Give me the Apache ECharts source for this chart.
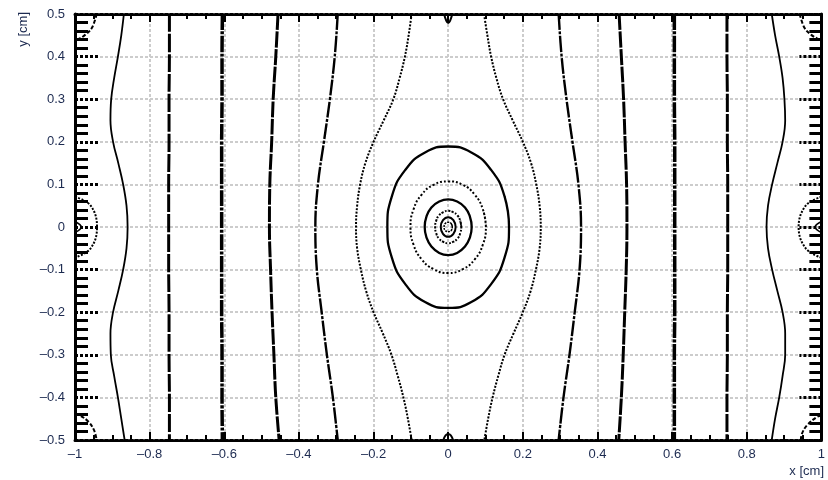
<!DOCTYPE html>
<html>
<head>
<meta charset="utf-8">
<title>contours</title>
<script src="https://cdn.jsdelivr.net/npm/echarts@6/dist/echarts.min.js"></script>
<style>
  html, body { margin: 0; padding: 0; background: #fff; }
  #chart { width: 828px; height: 480px; }
</style>
</head>
<body>
<div id="chart"></div>
<script>
  // y positions where the open curves were read
  const yCoarse = [0.5, 0.4, 0.3, 0.2, 0.1, 0, -0.1, -0.2, -0.3, -0.4, -0.5]
  const yFine = [0.5, 0.45, 0.4, 0.35, 0.3, 0.25, 0.2, 0.15, 0.1, 0.05, 0,
    -0.05, -0.1, -0.15, -0.2, -0.25, -0.3, -0.35, -0.4, -0.45, -0.5]

  // open curves, x value at each y (left half / right half)
  const curveA_left = [-0.869, -0.876, -0.885, -0.895, -0.903, -0.905, -0.898, -0.884, -0.871, -0.862, -0.859,
    -0.862, -0.871, -0.884, -0.898, -0.905, -0.904, -0.895, -0.885, -0.876, -0.867]
  const curveA_right = [0.867, 0.876, 0.887, 0.896, 0.901, 0.903, 0.896, 0.882, 0.868, 0.857, 0.853,
    0.857, 0.868, 0.882, 0.896, 0.903, 0.903, 0.896, 0.887, 0.876, 0.867]
  const curveB_left = [-0.747, -0.747, -0.748, -0.748, -0.749, -0.749, -0.749, -0.748, -0.748, -0.747, -0.747]
  const curveB_right = [0.747, 0.747, 0.748, 0.748, 0.749, 0.749, 0.749, 0.748, 0.748, 0.747, 0.747]
  const curveC_left = [-0.605, -0.606, -0.606, -0.607, -0.607, -0.607, -0.607, -0.607, -0.606, -0.606, -0.605]
  const curveC_right = [0.606, 0.606, 0.606, 0.607, 0.607, 0.607, 0.607, 0.607, 0.606, 0.606, 0.606]
  const curveD_left = [-0.456, -0.462, -0.469, -0.473, -0.478, -0.479, -0.476, -0.472, -0.467, -0.462, -0.453]
  const curveD_right = [0.458, 0.464, 0.47, 0.474, 0.478, 0.479, 0.477, 0.473, 0.469, 0.464, 0.457]
  const curveE_left = [-0.296, -0.304, -0.317, -0.333, -0.349, -0.356, -0.352, -0.339, -0.325, -0.309, -0.296]
  const curveE_right = [0.296, 0.304, 0.317, 0.333, 0.349, 0.356, 0.352, 0.339, 0.325, 0.309, 0.296]
  const curveF_left = [-0.098, -0.106, -0.116, -0.13, -0.147, -0.173, -0.2, -0.222, -0.236, -0.244, -0.247,
    -0.244, -0.234, -0.22, -0.2, -0.175, -0.152, -0.135, -0.12, -0.108, -0.098]
  const curveF_right = [0.096, 0.105, 0.115, 0.129, 0.147, 0.173, 0.2, 0.222, 0.236, 0.245, 0.248,
    0.245, 0.235, 0.221, 0.2, 0.175, 0.151, 0.134, 0.119, 0.107, 0.097]

  // closed rings round the centre ([x, y])
  const ring1 = [[0.163, 0], [0.151, 0.072], [0.115, 0.134], [0.062, 0.175], [0, 0.189], [-0.062, 0.175], [-0.115, 0.134], [-0.151, 0.072],
    [-0.163, 0], [-0.151, -0.072], [-0.115, -0.134], [-0.062, -0.176], [0, -0.19], [0.062, -0.176], [0.115, -0.134], [0.151, -0.072]]
  const ring2 = [[0.101, 0], [0.093, 0.041], [0.071, 0.076], [0.039, 0.099], [0, 0.107], [-0.039, 0.099], [-0.071, 0.076], [-0.093, 0.041],
    [-0.101, 0], [-0.093, -0.041], [-0.071, -0.076], [-0.039, -0.099], [0, -0.108], [0.039, -0.099], [0.071, -0.076], [0.093, -0.041]]
  const ring3 = [[0.063, 0], [0.058, 0.025], [0.045, 0.046], [0.024, 0.06], [0, 0.065], [-0.024, 0.06], [-0.045, 0.046], [-0.058, 0.025],
    [-0.063, 0], [-0.058, -0.025], [-0.045, -0.046], [-0.024, -0.061], [0, -0.066], [0.024, -0.061], [0.045, -0.046], [0.058, -0.025]]
  const ring4 = [[0.035, 0], [0.032, 0.015], [0.025, 0.027], [0.013, 0.035], [0, 0.038], [-0.013, 0.035], [-0.025, 0.027], [-0.032, 0.015],
    [-0.035, 0], [-0.032, -0.015], [-0.025, -0.027], [-0.013, -0.035], [0, -0.038], [0.013, -0.035], [0.025, -0.027], [0.032, -0.015]]
  const ring5 = [[0.02, 0], [0.014, 0.016], [0, 0.023], [-0.014, 0.016], [-0.02, 0], [-0.014, -0.016], [0, -0.023], [0.014, -0.016]]
  const ring6 = [[0.011, 0], [0.008, 0.008], [0, 0.011], [-0.008, 0.008], [-0.011, 0], [-0.008, -0.008], [0, -0.011], [0.008, -0.008]]

  // small arcs at the edges and corners ([x, y])
  const arcLeft = [[-1, 0.071], [-0.958, 0.05], [-0.941, 0], [-0.958, -0.05], [-1, -0.072]]
  const arcRight = [[1, 0.071], [0.958, 0.05], [0.939, 0], [0.958, -0.05], [1, -0.072]]
  const dotLeft = [[-1, 0.013], [-0.983, 0], [-1, -0.013]]
  const dotRight = [[1, 0.013], [0.983, 0], [1, -0.013]]
  const cornerTL = [[-0.942, 0.5], [-0.955, 0.467], [-0.973, 0.451], [-0.987, 0.443], [-1, 0.44]]
  const cornerBL = [[-1, -0.44], [-0.988, -0.442], [-0.964, -0.457], [-0.949, -0.477], [-0.942, -0.5]]
  const cornerTR = [[0.942, 0.5], [0.955, 0.467], [0.973, 0.451], [0.988, 0.443], [1, 0.44]]
  const cornerBR = [[1, -0.443], [0.988, -0.446], [0.962, -0.465], [0.948, -0.485], [0.945, -0.5]]
  const topArc = [[-0.011, 0.5], [-0.005, 0.484], [0, 0.479], [0.005, 0.484], [0.011, 0.5]]
  const bottomArc = [[-0.013, -0.5], [-0.007, -0.489], [0, -0.486], [0.007, -0.489], [0.013, -0.5]]

  const xTicks = [-1, -0.8, -0.6, -0.4, -0.2, 0, 0.2, 0.4, 0.6, 0.8, 1]
  const yTicks = [-0.5, -0.4, -0.3, -0.2, -0.1, 0, 0.1, 0.2, 0.3, 0.4, 0.5]

  const labelColor = '#1c2a50'
  const font = "'Liberation Sans', Arial, sans-serif"

  const mChart = echarts.init(document.getElementById('chart'))

  const pairs = (xs, ys) => ys.map((y, i) => [xs[i], y])
  const loop = (pts) => pts.concat([pts[0], pts[1]])

  const line = (data, width, type, smooth) => ({
    type: 'line',
    data: data,
    smooth: smooth === undefined ? 0.4 : smooth,
    symbol: 'none',
    silent: true,
    animation: false,
    z: 3,
    lineStyle: { color: '#000', width: width, type: type }
  })

  const minus = (v) => {
    const s = String(Number(v.toFixed(2)))
    return s.replace('-', '\u2013')
  }

  const series = [
    line(pairs(curveA_left, yFine), 1.8, 'solid'),
    line(pairs(curveA_right, yFine), 1.8, 'solid'),
    line(pairs(curveB_left, yCoarse), 3, [18, 2]),
    line(pairs(curveB_right, yCoarse), 3, [18, 2]),
    line(pairs(curveC_left, yCoarse), 3.5, [16, 1.5, 3, 1.5]),
    line(pairs(curveC_right, yCoarse), 3.5, [16, 1.5, 3, 1.5]),
    line(pairs(curveD_left, yCoarse), 3, [16, 1.5]),
    line(pairs(curveD_right, yCoarse), 3, [16, 1.5]),
    line(pairs(curveE_left, yCoarse), 2.4, [16, 1.5, 3, 1.5]),
    line(pairs(curveE_right, yCoarse), 2.4, [16, 1.5, 3, 1.5]),
    line(pairs(curveF_left, yFine), 2, [2, 1.5]),
    line(pairs(curveF_right, yFine), 2, [2, 1.5]),
    line(loop(ring1), 2.3, 'solid', 0.5),
    line(loop(ring2), 2, [2, 2], 0.5),
    line(loop(ring3), 2.3, 'solid', 0.5),
    line(loop(ring4), 2, [2, 1.5], 0.5),
    line(loop(ring5), 2, 'solid', 0.5),
    line(loop(ring6), 1.5, [2, 1], 0.5),
    line(arcLeft, 2, [2, 1.5]),
    line(arcRight, 2, [2, 1.5]),
    line(dotLeft, 1.5, 'solid'),
    line(dotRight, 1.5, 'solid'),
    line(cornerTL, 2, [4, 2]),
    line(cornerBL, 2, [4, 2]),
    line(cornerTR, 2, [4, 2]),
    line(cornerBR, 2, [4, 2]),
    line(topArc, 2, 'solid'),
    line(bottomArc, 2, 'solid')
  ]

  const xAxisBase = (pos) => ({
    type: 'value',
    position: pos,
    min: xTicks[0],
    max: xTicks[xTicks.length - 1],
    interval: 0.2,
    axisLine: { show: true, onZero: false, lineStyle: { color: '#000', width: 3, type: [3, 2] } },
    axisTick: { show: true, inside: true, length: 8, lineStyle: { color: '#000', width: 2 } },
    minorTick: { show: true, splitNumber: 4, length: 5, lineStyle: { color: '#000', width: 2 } },
    splitLine: { show: pos === 'bottom', lineStyle: { color: '#cccccc', width: 2, type: [3, 2] } },
    axisLabel: {
      show: pos === 'bottom', color: labelColor, fontSize: 13, fontFamily: font, margin: 8,
      formatter: minus
    }
  })

  const yAxisBase = (pos) => ({
    type: 'value',
    position: pos,
    min: yTicks[0],
    max: yTicks[yTicks.length - 1],
    interval: 0.1,
    axisLine: { show: true, onZero: false, lineStyle: { color: '#000', width: 3 } },
    axisTick: { show: true, inside: true, length: pos === 'left' ? 25 : 22, lineStyle: { color: '#000', width: 3, type: [3, 2] } },
    minorTick: { show: true, splitNumber: 5, length: pos === 'left' ? 13 : 12, lineStyle: { color: '#000', width: 3 } },
    splitLine: { show: pos === 'left', lineStyle: { color: '#cccccc', width: 2, type: [3, 2] } },
    axisLabel: {
      show: pos === 'left', color: labelColor, fontSize: 13, fontFamily: font, margin: 10,
      formatter: minus
    }
  })

  const options = {
    backgroundColor: '#fff',
    animation: false,
    grid: { left: 75, right: 3, top: 14, bottom: 40 },
    xAxis: [xAxisBase('bottom'), xAxisBase('top')],
    yAxis: [yAxisBase('left'), yAxisBase('right')],
    graphic: [
      {
        type: 'text', x: 23, y: 12, rotation: Math.PI / 2,
        style: { text: 'y [cm]', fill: labelColor, font: '13px ' + font, align: 'right', verticalAlign: 'middle' }
      },
      {
        type: 'text', x: 824, y: 471,
        style: { text: 'x [cm]', fill: labelColor, font: '13px ' + font, align: 'right', verticalAlign: 'middle' }
      }
    ],
    series: series
  }

  mChart.setOption(options)
</script>
</body>
</html>
